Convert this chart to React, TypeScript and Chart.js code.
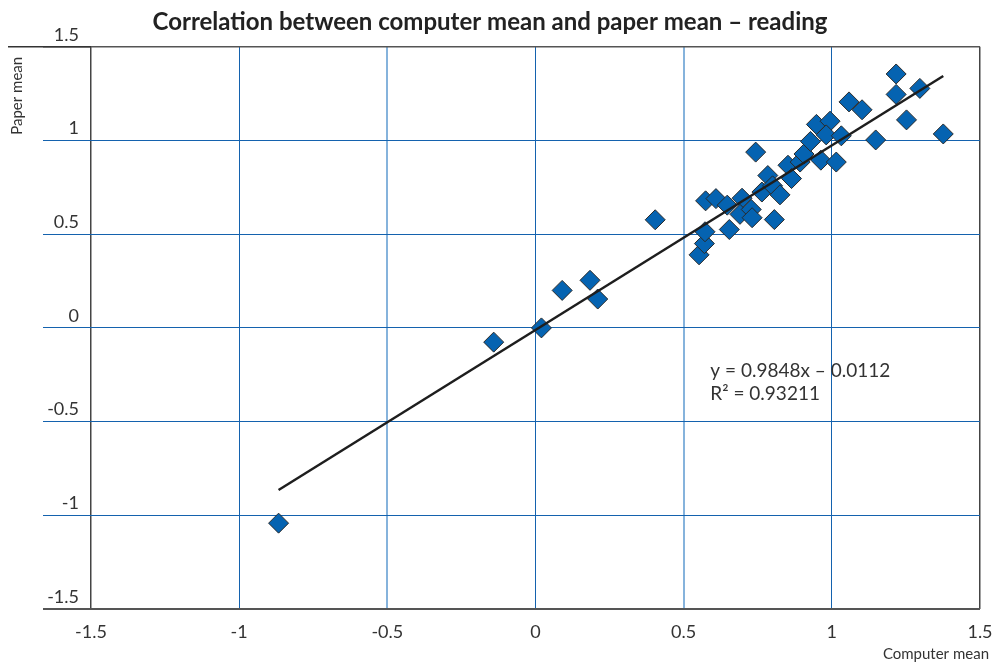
import React, { useEffect, useRef } from 'react';
import { Chart, registerables } from 'chart.js';

Chart.register(...registerables);

const TITLE = 'Correlation between computer mean and paper mean – reading';
const X_TITLE = 'Computer mean';
const Y_TITLE = 'Paper mean';

const computerMean = [
  -0.867, -0.141, 0.02, 0.09, 0.184, 0.21, 0.404, 0.552, 0.57, 0.572,
  0.574, 0.609, 0.647, 0.654, 0.697, 0.69, 0.728, 0.731, 0.806, 0.743,
  0.764, 0.784, 0.8, 0.825, 0.852, 0.864, 0.893, 0.906, 0.928, 0.963,
  1.015, 0.948, 0.994, 0.981, 1.032, 1.058, 1.102, 1.148, 1.217, 1.217,
  1.252, 1.297, 1.376,
];
const paperMean = [
  -1.042, -0.076, 0.0, 0.2, 0.254, 0.154, 0.577, 0.39, 0.45, 0.513,
  0.678, 0.69, 0.655, 0.525, 0.692, 0.606, 0.632, 0.588, 0.578, 0.938,
  0.725, 0.813, 0.758, 0.71, 0.868, 0.797, 0.885, 0.928, 0.995, 0.895,
  0.885, 1.086, 1.103, 1.03, 1.025, 1.206, 1.164, 1.003, 1.355, 1.246,
  1.11, 1.278, 1.035,
];

const TREND_SLOPE = 0.9848;
const TREND_INTERCEPT = -0.0112;
const EQUATION_TEXT = 'y = 0.9848x – 0.0112';
const R2_TEXT = 'R² = 0.93211';

const AXIS_MIN = -1.5;
const AXIS_MAX = 1.5;
const AXIS_STEP = 0.5;

const FONT = 'Lato, "Open Sans", sans-serif';

export default function App() {
  const ref = useRef<HTMLCanvasElement>(null);

  useEffect(() => {
    if (!ref.current) return;
    const points = computerMean.map((x, i) => ({ x, y: paperMean[i] }));
    const xMin = Math.min(...computerMean);
    const xMax = Math.max(...computerMean);
    const trend = [xMin, xMax].map((x) => ({ x, y: TREND_SLOPE * x + TREND_INTERCEPT }));

    const extras = {
      id: 'extras',
      afterDraw(chart: any) {
        const { ctx, chartArea, scales } = chart;
        ctx.save();
        ctx.strokeStyle = '#333';
        ctx.lineWidth = 1.5;
        ctx.beginPath();
        ctx.moveTo(8, chartArea.top);
        ctx.lineTo(chartArea.left, chartArea.top);
        ctx.stroke();

        ctx.fillStyle = '#333';
        ctx.font = `15px ${FONT}`;
        ctx.textAlign = 'right';
        ctx.textBaseline = 'middle';
        ctx.fillText(X_TITLE, chartArea.right + 9, chartArea.bottom + 45);

        ctx.save();
        ctx.translate(17, chartArea.top + 49);
        ctx.rotate(-Math.PI / 2);
        ctx.textAlign = 'center';
        ctx.fillText(Y_TITLE, 0, 0);
        ctx.restore();

        ctx.font = `19px ${FONT}`;
        ctx.textAlign = 'left';
        const ex = scales.x.getPixelForValue(0.59);
        ctx.fillText(EQUATION_TEXT, ex, scales.y.getPixelForValue(-0.23));
        ctx.fillText(R2_TEXT, ex, scales.y.getPixelForValue(-0.35));
        ctx.restore();
      },
    };

    const xGridColor = (c: any) => {
      const v = c.tick ? c.tick.value : 0;
      if (Math.abs(v) === 1.5) return '#444';
      if (Math.abs(v) === 0.5) return '#86b3dc';
      return '#1462ae';
    };
    const xGridWidth = (c: any) => {
      const v = c.tick ? c.tick.value : 0;
      if (Math.abs(v) === 1.5) return 1.5;
      if (Math.abs(v) === 0.5) return 2;
      return 1;
    };
    const yGridColor = (c: any) => {
      const v = c.tick ? c.tick.value : 0;
      if (Math.abs(v) === 1.5) return '#555';
      return '#1462ae';
    };
    const yGridWidth = (c: any) => {
      const v = c.tick ? c.tick.value : 0;
      if (v === -1.5) return 2;
      if (v === 1.5) return 1.5;
      return 1;
    };

    const chart = new Chart(ref.current, {
      type: 'scatter',
      data: {
        datasets: [
          {
            type: 'scatter',
            data: points,
            pointStyle: 'rectRot',
            pointRadius: 10,
            pointHoverRadius: 10,
            backgroundColor: '#0563b1',
            borderColor: '#2a2a2a',
            borderWidth: 1,
            order: 2,
          },
          {
            type: 'line',
            data: trend,
            borderColor: '#1e1e1e',
            borderWidth: 2.5,
            pointRadius: 0,
            fill: false,
            order: 1,
          } as any,
        ],
      },
      options: {
        responsive: false,
        animation: false,
        devicePixelRatio: 1,
        layout: { padding: { left: 0, right: 16, top: 0, bottom: 0 } },
        plugins: {
          legend: { display: false },
          tooltip: { enabled: false },
          title: {
            display: true,
            text: TITLE,
            color: '#222',
            font: { family: FONT, size: 24, weight: 'bold' },
            padding: { top: 8, bottom: 10 },
          },
        },
        scales: {
          x: {
            type: 'linear',
            min: AXIS_MIN,
            max: AXIS_MAX,
            border: { display: false },
            grid: {
              color: xGridColor,
              lineWidth: xGridWidth,
              drawTicks: false,
            },
            ticks: {
              stepSize: AXIS_STEP,
              padding: 12,
              color: '#333',
              font: { family: FONT, size: 18 },
              callback: (v: any) => String(v),
            },
            afterFit: (scale: any) => {
              scale.height = 57;
              scale.paddingLeft = 0;
              scale.paddingRight = 0;
            },
          },
          y: {
            type: 'linear',
            min: AXIS_MIN,
            max: AXIS_MAX,
            border: { display: false },
            grid: {
              color: yGridColor,
              lineWidth: yGridWidth,
              drawTicks: true,
              tickLength: 48,
            },
            ticks: {
              stepSize: AXIS_STEP,
              padding: -36,
              labelOffset: -12,
              color: '#333',
              font: { family: FONT, size: 18 },
              callback: (v: any) => String(v),
            },
            afterFit: (scale: any) => {
              scale.width = 91;
            },
          },
        },
      },
      plugins: [extras],
    });
    return () => chart.destroy();
  }, []);

  return (
    <div style={{ position: 'absolute', left: 0, top: 0, width: 996, height: 666, background: '#fff' }}>
      <canvas ref={ref} width={996} height={666} style={{ display: 'block' }} />
    </div>
  );
}
